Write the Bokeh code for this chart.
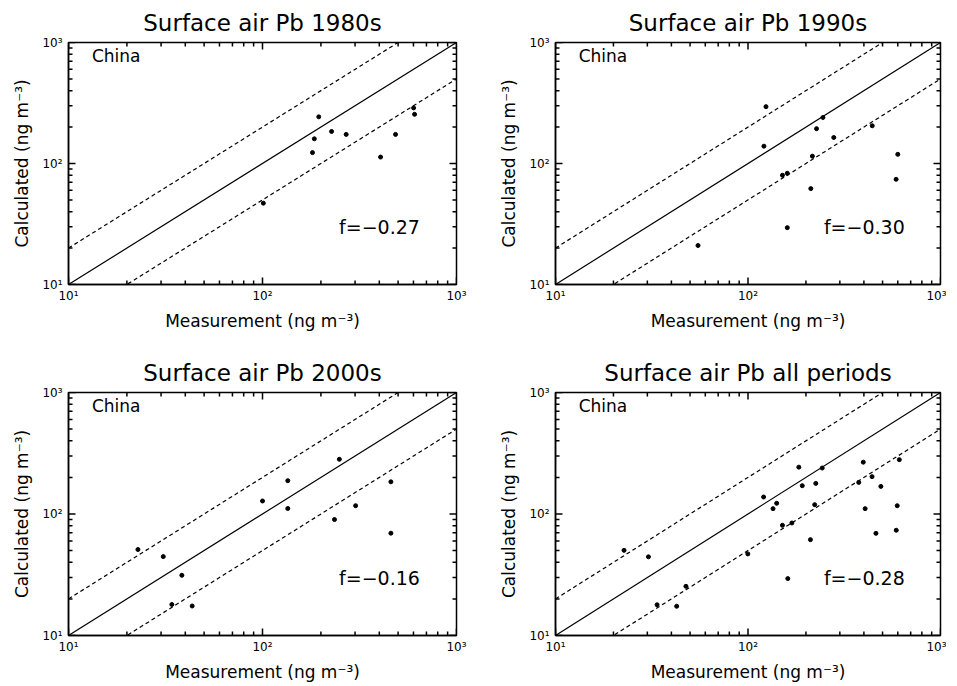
import math
from bokeh.plotting import figure
from bokeh.models import FixedTicker, CustomJSTickFormatter, Label
from bokeh.layouts import gridplot
from bokeh.embed import file_html
from bokeh.resources import INLINE

# ---------------- data ----------------
titles = ["Surface air Pb 1980s", "Surface air Pb 1990s",
          "Surface air Pb 2000s", "Surface air Pb all periods"]
f_labels = ["f=\u22120.27", "f=\u22120.30", "f=\u22120.16", "f=\u22120.28"]
region = "China"
x_label = "Measurement (ng m\u207b\u00b3)"
y_label = "Calculated (ng m\u207b\u00b3)"

meas_1980s = [195, 185, 181, 227, 270, 485, 406, 601, 608, 101]
calc_1980s = [243, 160, 123, 184, 174, 174, 113, 288, 255, 47]

meas_1990s = [124, 121, 245, 227, 279, 442, 216, 600, 588, 212, 151, 160, 160, 55]
calc_1990s = [295, 139, 240, 194, 164, 205, 115, 119, 74, 62, 80, 83, 29.5, 21]

meas_2000s = [22.8, 30.8, 38.4, 34.1, 43.4, 100, 135, 135, 249, 302, 235, 459, 459]
calc_2000s = [51, 44.6, 31.3, 18.0, 17.5, 128, 188, 111, 282, 117, 90, 184, 69.5]

meas_all = [22.7, 30.4, 33.7, 42.6, 47.6, 99.8, 120.5, 134.9, 140.9, 151, 169,
            183.7, 191.4, 211, 161, 222, 225, 243, 376, 397, 406, 441, 462,
            490, 589, 596, 611]
calc_all = [50.2, 44.4, 17.9, 17.4, 25.4, 46.9, 138, 110.7, 122.5, 80.7, 84.3,
            243, 171, 61.5, 29.4, 119.4, 178.6, 239, 182, 267, 110.7, 203, 69.3,
            168.7, 73.5, 117, 280]

series = [(meas_1980s, calc_1980s), (meas_1990s, calc_1990s),
          (meas_2000s, calc_2000s), (meas_all, calc_all)]

axis_limits = [10, 1000]
major_ticks = [10, 100, 1000]
minor_ticks = [m * 10 ** d for d in (1, 2) for m in range(2, 10)]
ratio_lines = [1.0, 2.0, 0.5]
ratio_dash = ["solid", "4 3", "4 3"]

FONT = "DejaVu Sans"
fmt = CustomJSTickFormatter(code="""
const s = {1: '\u00b9', 2: '\u00b2', 3: '\u00b3'};
const e = Math.round(Math.log10(tick));
return '10' + s[e];
""")


def style_axis(ax):
    ax.ticker = FixedTicker(ticks=major_ticks, minor_ticks=minor_ticks)
    ax.formatter = fmt
    ax.major_tick_in = 0
    ax.major_tick_out = 0
    ax.minor_tick_in = 0
    ax.minor_tick_out = 0
    ax.axis_line_color = "black"
    ax.axis_line_width = 1.5
    ax.major_label_text_font = FONT
    ax.major_label_text_font_size = "12px"
    ax.major_label_text_color = "black"
    ax.axis_label_text_font = FONT
    ax.axis_label_text_font_size = "17px"
    ax.axis_label_text_font_style = "normal"
    ax.axis_label_text_color = "black"


def draw_ticks(p, ticks, length):
    # a "dash" marker centred on each frame edge; the outer half is clipped
    # by the frame, leaving an inward tick of the given length
    lo, hi = axis_limits
    n = len(ticks)
    kw = dict(marker="dash", size=2 * length, line_color="black",
              line_width=1.5)
    p.scatter(x=ticks, y=[lo] * n, angle=math.pi / 2, **kw)   # bottom
    p.scatter(x=ticks, y=[hi] * n, angle=math.pi / 2, **kw)   # top
    p.scatter(x=[lo] * n, y=ticks, angle=0.0, **kw)           # left
    p.scatter(x=[hi] * n, y=ticks, angle=0.0, **kw)           # right


def make(i, col, row):
    p = figure(x_axis_type="log", y_axis_type="log",
               x_range=(axis_limits[0], axis_limits[1]),
               y_range=(axis_limits[0], axis_limits[1]),
               frame_width=388 if col == 0 else 385,
               frame_height=242 if row == 0 else 243,
               min_border_left=68 if col == 0 else 60,
               min_border_right=39 if col == 0 else 6,
               min_border_top=42,
               min_border_bottom=66 if row == 0 else 44,
               output_backend="svg", toolbar_location=None,
               title=titles[i], background_fill_color="white",
               border_fill_color="white")
    p.grid.visible = False
    p.outline_line_color = "black"
    p.outline_line_width = 1.5
    p.title.text_font = FONT
    p.title.text_font_size = "23px"
    p.title.text_font_style = "normal"
    p.title.align = "center"
    p.title.text_color = "black"
    p.title.standoff = 14

    style_axis(p.xaxis[0])
    style_axis(p.yaxis[0])
    p.xaxis[0].axis_label = x_label
    p.yaxis[0].axis_label = y_label
    p.xaxis[0].major_label_standoff = 4
    p.yaxis[0].major_label_standoff = 6
    p.xaxis[0].axis_label_standoff = 5
    p.yaxis[0].axis_label_standoff = 7

    draw_ticks(p, major_ticks, 7)
    draw_ticks(p, minor_ticks, 4)

    for r, d in zip(ratio_lines, ratio_dash):
        p.line(axis_limits, [v * r for v in axis_limits], line_color="black",
               line_width=1.2, line_dash=d)

    xs, ys = series[i]
    p.scatter(xs, ys, size=4, color="black")

    p.add_layout(Label(x=13.2, y=780, text=region, text_font=FONT,
                       text_font_size="17px", text_baseline="middle",
                       text_color="black"))
    p.add_layout(Label(x=248, y=30, text=f_labels[i], text_font=FONT,
                       text_font_size="19px", text_baseline="middle",
                       text_color="black"))
    return p


p1 = make(0, 0, 0)
p2 = make(1, 1, 0)
p3 = make(2, 0, 1)
p4 = make(3, 1, 1)

grid = gridplot([[p1, p2], [p3, p4]], toolbar_location=None)

open("out.html", "w").write(file_html(grid, INLINE))
